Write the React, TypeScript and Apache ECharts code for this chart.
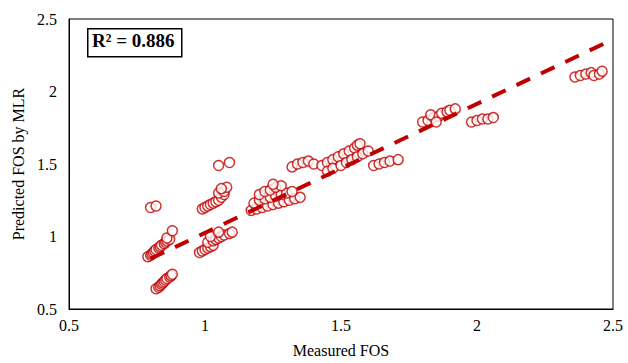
import React, { useEffect, useRef } from "react";
import * as echarts from "echarts";

// Measured FOS (x) and predicted FOS by MLR (y), read per cluster
const measuredA = [0.8, 0.82];
const predictedA = [1.2, 1.21];
const measuredB = [0.79, 0.8, 0.805, 0.81, 0.815, 0.82, 0.83, 0.835, 0.84, 0.85, 0.855, 0.86, 0.87, 0.86, 0.88];
const predictedB = [0.86, 0.87, 0.88, 0.89, 0.9, 0.91, 0.92, 0.93, 0.94, 0.95, 0.96, 0.97, 0.98, 0.99, 1.04];
const measuredC = [0.82, 0.83, 0.835, 0.84, 0.845, 0.85, 0.855, 0.86, 0.87, 0.875, 0.88];
const predictedC = [0.64, 0.65, 0.66, 0.67, 0.68, 0.69, 0.7, 0.71, 0.72, 0.73, 0.74];
const measuredD = [0.98, 0.99, 1.0, 1.01, 1.02, 1.03, 1.01, 1.03, 1.04, 1.05, 1.06, 1.07, 1.09, 1.1, 1.02, 1.05];
const predictedD = [0.89, 0.9, 0.91, 0.92, 0.93, 0.94, 0.96, 0.97, 0.98, 0.99, 1.0, 1.01, 1.02, 1.03, 1.0, 1.03];
const measuredE = [0.99, 1.0, 1.01, 1.02, 1.03, 1.04, 1.05, 1.06, 1.07, 1.05, 1.07, 1.08, 1.06];
const predictedE = [1.19, 1.2, 1.21, 1.22, 1.23, 1.24, 1.25, 1.27, 1.29, 1.3, 1.31, 1.34, 1.33];
const measuredF = [1.05, 1.09];
const predictedF = [1.49, 1.51];
const measuredG = [1.17, 1.19, 1.21, 1.23, 1.25, 1.27, 1.29, 1.31, 1.33, 1.35, 1.18, 1.2, 1.22, 1.24, 1.26, 1.28, 1.3, 1.32, 1.2, 1.22, 1.24, 1.26, 1.28, 1.25];
const predictedG = [1.18, 1.19, 1.2, 1.21, 1.22, 1.23, 1.24, 1.25, 1.26, 1.27, 1.23, 1.25, 1.26, 1.27, 1.28, 1.29, 1.3, 1.31, 1.29, 1.31, 1.32, 1.34, 1.35, 1.36];
const measuredH = [1.32, 1.34, 1.36, 1.38, 1.4, 1.43, 1.45, 1.47, 1.49, 1.51, 1.53, 1.55, 1.56, 1.57, 1.45, 1.47, 1.5, 1.52, 1.54, 1.56, 1.58, 1.6];
const predictedH = [1.48, 1.5, 1.51, 1.52, 1.5, 1.49, 1.51, 1.53, 1.55, 1.57, 1.59, 1.61, 1.63, 1.64, 1.45, 1.47, 1.49, 1.51, 1.53, 1.55, 1.57, 1.59];
const measuredI = [1.62, 1.64, 1.66, 1.68, 1.71];
const predictedI = [1.49, 1.5, 1.51, 1.52, 1.53];
const measuredJ = [1.8, 1.82, 1.84, 1.83, 1.86, 1.87, 1.89, 1.9, 1.92, 1.85];
const predictedJ = [1.79, 1.8, 1.82, 1.84, 1.83, 1.85, 1.86, 1.87, 1.88, 1.79];
const measuredK = [1.98, 2.0, 2.02, 2.04, 2.06];
const predictedK = [1.79, 1.8, 1.81, 1.81, 1.82];
const measuredL = [2.36, 2.38, 2.4, 2.42, 2.43, 2.45, 2.46];
const predictedL = [2.1, 2.11, 2.12, 2.13, 2.11, 2.12, 2.14];

// Trend line endpoints
const trendX = [0.8, 2.47];
const trendY = [0.847, 2.333];

const axisTicks = [0.5, 1, 1.5, 2, 2.5];
const r2Label = "R² = 0.886";

const allMeasured = [measuredA, measuredB, measuredC, measuredD, measuredE, measuredF, measuredG, measuredH, measuredI, measuredJ, measuredK, measuredL];
const allPredicted = [predictedA, predictedB, predictedC, predictedD, predictedE, predictedF, predictedG, predictedH, predictedI, predictedJ, predictedK, predictedL];

export default function App() {
  const ref = useRef<HTMLDivElement>(null);
  useEffect(() => {
    if (!ref.current) return;
    const chart = echarts.init(ref.current, null, { renderer: "svg" });
    const points: number[][] = [];
    allMeasured.forEach((xs, i) => xs.forEach((x, j) => points.push([x, allPredicted[i][j]])));
    const font = "'Liberation Serif', 'Times New Roman', serif";
    chart.setOption({
      animation: false,
      backgroundColor: "#fff",
      grid: { left: 69, right: 15, top: 19, bottom: 51, show: true, borderColor: "#000", borderWidth: 1 },
      xAxis: {
        type: "value",
        min: axisTicks[0],
        max: axisTicks[axisTicks.length - 1],
        interval: 0.5,
        name: "Measured FOS",
        nameLocation: "middle",
        nameGap: 33,
        nameTextStyle: { fontFamily: font, fontSize: 16, color: "#000" },
        axisLine: { show: true, lineStyle: { color: "#000", width: 1 } },
        axisTick: { show: false },
        splitLine: { show: false },
        axisLabel: { fontFamily: font, fontSize: 16, color: "#000", margin: 8 },
      },
      yAxis: {
        type: "value",
        min: axisTicks[0],
        max: axisTicks[axisTicks.length - 1],
        interval: 0.5,
        name: "Predicted FOS by MLR",
        nameLocation: "middle",
        nameGap: 40,
        nameTextStyle: { fontFamily: font, fontSize: 16, color: "#000" },
        axisLine: { show: true, lineStyle: { color: "#000", width: 1 } },
        axisTick: { show: false },
        splitLine: { show: false },
        axisLabel: { fontFamily: font, fontSize: 16, color: "#000", margin: 12 },
      },
      graphic: [
        {
          type: "rect",
          left: 87,
          top: 28,
          shape: { width: 94, height: 28 },
          style: { fill: "#fff", stroke: "#000", lineWidth: 1.5 },
          z: 100,
        },
        {
          type: "text",
          left: 92,
          top: 31,
          style: { text: r2Label, fontFamily: font, fontWeight: "bold", fontSize: 19, fill: "#000" },
          z: 101,
        },
      ],
      series: [
        {
          type: "scatter",
          data: points,
          symbol: "circle",
          symbolSize: 10,
          itemStyle: { color: "#fff", borderColor: "#C00000", borderWidth: 1.5 },
          z: 2,
        },
        {
          type: "line",
          data: trendX.map((x, i) => [x, trendY[i]]),
          symbol: "none",
          lineStyle: { color: "#C00000", width: 4, type: [15, 12] },
          z: 3,
        },
      ],
    });
    return () => chart.dispose();
  }, []);
  return <div ref={ref} style={{ position: "fixed", left: 0, top: 0, width: 628, height: 363 }} />;
}
